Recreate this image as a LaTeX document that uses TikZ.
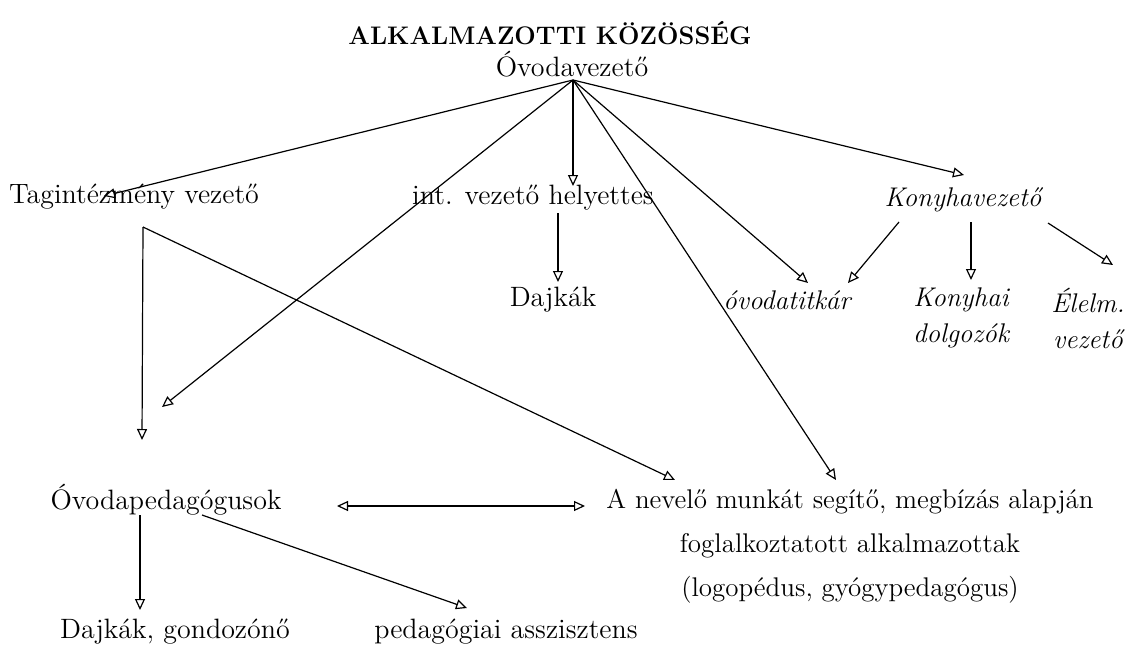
\documentclass[tikz,border=0pt]{standalone}
\usepackage{fontspec}
\usetikzlibrary{arrows.meta}
\begin{document}
\begin{tikzpicture}[x=0.5pt,y=-0.5pt,
  lbl/.style={inner sep=0pt, font=\fontsize{14}{16}\selectfont},
  ilbl/.style={inner sep=0pt, font=\fontsize{13.5}{18}\selectfont\itshape, align=center},
  arr/.style={-{Triangle[open,length=5.5pt,width=5pt]}, line width=0.6pt},
  darr/.style={{Triangle[open,length=5.5pt,width=5pt]}-{Triangle[open,length=5.5pt,width=5pt]}, line width=0.6pt},
]
\useasboundingbox (0,0) rectangle (1125,649);
% texts
\node[inner sep=0pt, font=\bfseries\fontsize{12.7}{14}\selectfont] (title) at (550,33) {ALKALMAZOTTI KÖZÖSSÉG};
\node[lbl] (ov) at (572,64) {Óvodavezető};
\node[lbl] (tag) at (134,197) {Tagintézmény vezető};
\node[lbl] (int) at (533,198) {int. vezető helyettes};
\node[ilbl] (kv) at (963,200) {Konyhavezető};
\node[lbl] (dajk) at (553,300) {Dajkák};
\node[ilbl] (titk) at (787,300) {óvodatitkár};
\node[ilbl] (kd) at (961,318) {Konyhai\\dolgozók};
\node[ilbl] (el) at (1088,318) {Élelm.\\vezető};
\node[lbl] (ovp) at (166,500) {Óvodapedagógusok};
\node[lbl, align=center, font=\fontsize{13.5}{22}\selectfont] (nev) at (850,546) {A nevelő munkát segítő, megbízás alapján\\foglalkoztatott alkalmazottak\\(logopédus, gyógypedagógus)};
\node[lbl] (dg) at (175,632) {Dajkák, gondozónő};
\node[lbl] (pa) at (506,632) {pedagógiai asszisztens};
% connector points
\coordinate (hub) at (573,80);
\coordinate (tagT) at (104,196);
\coordinate (ovpT2) at (162,407);
\coordinate (intT) at (573,186);
\coordinate (titkT1) at (808,283);
\coordinate (nevT2) at (836,480);
\coordinate (kvT) at (964,175);
\coordinate (tagC) at (143,227);
\coordinate (ovpT1) at (142,440);
\coordinate (nevT1) at (675,480);
\coordinate (intB) at (558,213);
\coordinate (dajkT) at (558,282);
\coordinate (kvB1) at (899,222);
\coordinate (titkT2) at (848,283);
\coordinate (kvB2) at (971,222);
\coordinate (kdT) at (971,280);
\coordinate (kvB3) at (1048,223);
\coordinate (elT) at (1113,265);
\coordinate (dL) at (337,506);
\coordinate (dR) at (585,506);
\coordinate (ovpB1) at (140,515);
\coordinate (dgT) at (140,610);
\coordinate (ovpB2) at (202,515);
\coordinate (paT) at (467,608);
% connectors
\draw[arr] (hub) -- (tagT);
\draw[arr] (hub) -- (ovpT2);
\draw[arr] (hub) -- (intT);
\draw[arr] (hub) -- (titkT1);
\draw[arr] (hub) -- (nevT2);
\draw[arr] (hub) -- (kvT);
\draw[arr] (tagC) -- (ovpT1);
\draw[arr] (tagC) -- (nevT1);
\draw[arr] (intB) -- (dajkT);
\draw[arr] (kvB1) -- (titkT2);
\draw[arr] (kvB2) -- (kdT);
\draw[arr] (kvB3) -- (elT);
\draw[darr] (dL) -- (dR);
\draw[arr] (ovpB1) -- (dgT);
\draw[arr] (ovpB2) -- (paT);
\end{tikzpicture}
\end{document}
